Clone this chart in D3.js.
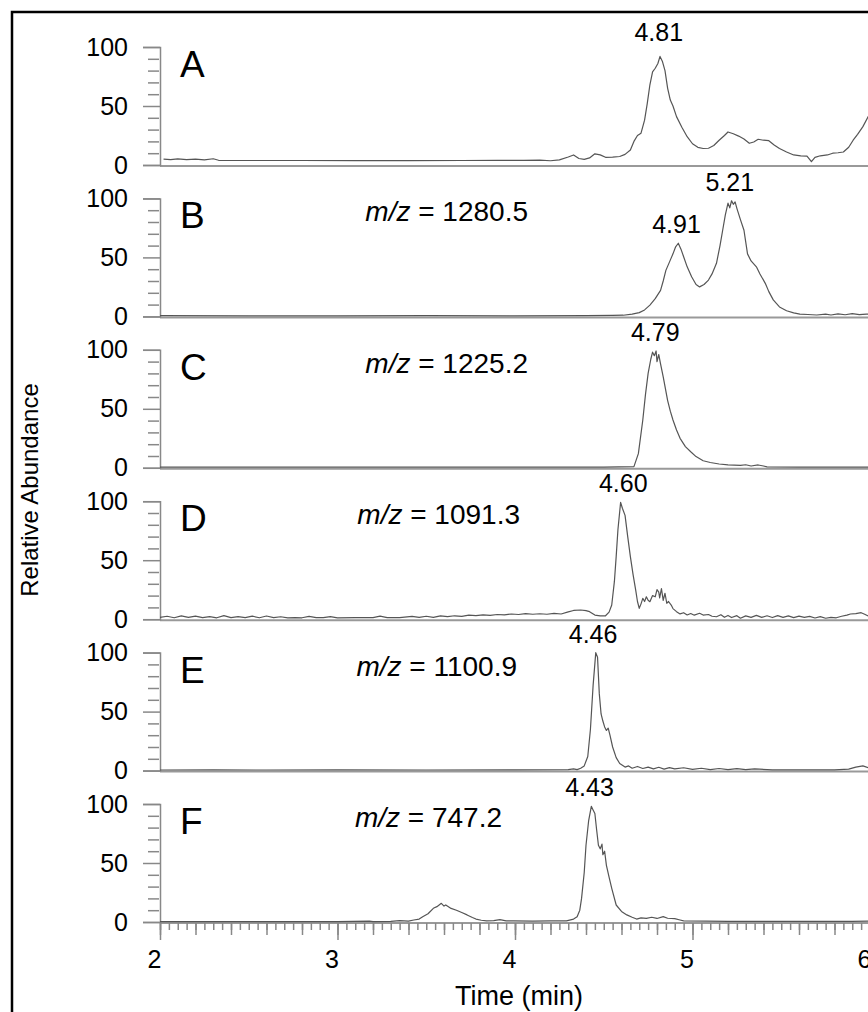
<!DOCTYPE html>
<html>
<head>
<meta charset="utf-8">
<script src="https://cdn.jsdelivr.net/npm/d3@7"></script>
<style>
  body { margin: 0; background: #fff; }
  svg { display: block; font-family: Arial, "Liberation Sans", sans-serif; }
</style>
</head>
<body>
<div id="chart"></div>
<script>
// chromatogram traces, [time (min), relative abundance %]
var traceA = [[2.02,5],[2.06,4.6],[2.1,5.2],[2.15,4.5],[2.2,5],[2.25,4.4],[2.3,5.3],[2.33,4],[2.5,3.8],[2.8,3.8],[3.1,3.7],[3.4,3.7],[3.7,3.8],[3.9,3.9],[4.05,4],[4.14,4.2],[4.2,3.6],[4.25,4.4],[4.3,6.8],[4.33,8.5],[4.36,5.5],[4.39,4.8],[4.42,6],[4.45,9.5],[4.48,8.6],[4.51,6.5],[4.55,6.6],[4.59,7.2],[4.62,9],[4.65,12.7],[4.67,20],[4.69,25],[4.71,27],[4.73,38],[4.745,52],[4.76,68],[4.775,79],[4.79,82],[4.805,86],[4.817,92],[4.83,88],[4.845,80],[4.86,65],[4.875,55],[4.89,50],[4.91,41],[4.94,32],[4.97,24],[5.0,18],[5.03,15],[5.06,14],[5.09,14.2],[5.12,16.5],[5.15,21],[5.18,25],[5.2,28],[5.23,26.5],[5.26,24.5],[5.29,22],[5.32,18.4],[5.345,19.5],[5.37,21.8],[5.4,21],[5.43,20.6],[5.46,17],[5.49,14],[5.53,11],[5.57,8.5],[5.61,7.8],[5.645,7.6],[5.67,2.8],[5.69,6.5],[5.72,7.8],[5.76,8.5],[5.79,10],[5.82,10.4],[5.85,11],[5.88,15],[5.905,21],[5.93,26],[5.96,32.5],[5.99,41],[6.02,48]];
var traceB = [[2,0.6],[2.5,0.5],[3,0.5],[3.5,0.6],[4,0.5],[4.4,0.6],[4.55,0.8],[4.61,1],[4.66,2],[4.7,3.2],[4.73,5.5],[4.76,9.6],[4.79,15],[4.82,22],[4.835,30],[4.85,39],[4.87,46],[4.89,53],[4.905,59],[4.92,62],[4.935,57],[4.95,50.6],[4.97,42],[4.995,33.6],[5.02,27],[5.04,25],[5.065,27],[5.09,30.8],[5.11,36],[5.135,45],[5.155,60],[5.17,73],[5.185,86],[5.2,96],[5.21,92],[5.22,98],[5.23,95],[5.24,97],[5.25,91.6],[5.27,82],[5.29,73],[5.3,63],[5.31,53],[5.33,47],[5.36,42],[5.38,36],[5.41,28],[5.43,21],[5.455,14],[5.49,8],[5.53,4.8],[5.57,3],[5.605,2],[5.65,1.6],[5.7,1.2],[5.75,2],[5.78,1.2],[5.82,2.2],[5.86,1.4],[5.9,2.3],[5.94,1.5],[5.98,2],[6.02,1.5]];
var traceC = [[2,0.5],[3,0.5],[4,0.5],[4.5,0.6],[4.67,1],[4.695,12],[4.72,40.5],[4.735,62],[4.75,80],[4.765,92],[4.775,98],[4.785,95],[4.795,99],[4.8,90],[4.81,96],[4.82,88],[4.835,77],[4.86,57],[4.875,48],[4.89,40.5],[4.91,32],[4.93,25],[4.96,18],[4.99,13.6],[5.02,9.5],[5.06,6],[5.1,4.5],[5.15,3.2],[5.2,2.4],[5.27,2],[5.3,2.6],[5.33,1.5],[5.37,2.4],[5.4,1.5],[5.42,0.8],[5.6,0.5],[6.02,0.5]];
var traceD = [[2,1.5],[2.04,2.5],[2.08,1.2],[2.12,2.8],[2.16,1.5],[2.2,2.6],[2.24,1.3],[2.28,2.2],[2.32,1.2],[2.36,3],[2.4,1.4],[2.44,2.2],[2.48,1.3],[2.52,2.6],[2.56,1.2],[2.6,2.7],[2.64,1.3],[2.68,2.1],[2.72,1.2],[2.76,1.4],[2.8,1.2],[2.84,2.4],[2.88,1.3],[2.92,1.3],[2.96,2.2],[3,1.2],[3.1,1.3],[3.2,1.3],[3.24,2.6],[3.28,1.4],[3.35,1.3],[3.42,2.4],[3.46,1.5],[3.5,2.5],[3.54,1.6],[3.58,2.8],[3.62,2.2],[3.66,2.9],[3.7,2.4],[3.74,3.4],[3.78,3],[3.82,3.6],[3.86,3.2],[3.9,4],[3.94,3.6],[3.98,4.4],[4.02,4],[4.06,4.8],[4.1,4.2],[4.14,4.6],[4.18,4.2],[4.22,5],[4.26,4.4],[4.3,6.2],[4.33,7.4],[4.37,7.8],[4.4,7.2],[4.42,6.4],[4.45,3.5],[4.48,2.8],[4.51,2.9],[4.53,6],[4.545,12],[4.56,32],[4.57,53],[4.58,76],[4.595,99],[4.605,94],[4.62,88],[4.635,70],[4.65,53],[4.665,38],[4.68,24.7],[4.69,15],[4.7,9.2],[4.71,13],[4.72,17.7],[4.73,15],[4.74,19],[4.75,16],[4.76,14.8],[4.775,20],[4.79,19],[4.8,25],[4.81,23],[4.815,18],[4.825,26],[4.835,16],[4.845,22],[4.855,13.5],[4.865,15],[4.88,12],[4.89,9],[4.91,6.4],[4.93,4.5],[4.95,5.5],[4.97,3.6],[4.99,4.8],[5.01,3.4],[5.04,5],[5.06,3.5],[5.09,4],[5.11,2.5],[5.135,2.1],[5.16,3.8],[5.18,1.6],[5.2,3.2],[5.22,1.4],[5.25,3],[5.27,0.8],[5.3,2.8],[5.33,1.6],[5.36,3.2],[5.39,1.5],[5.42,2.9],[5.45,1.4],[5.48,3],[5.51,1.6],[5.54,2.8],[5.57,1.3],[5.6,2.6],[5.63,1.5],[5.66,2.4],[5.69,1],[5.72,2.2],[5.75,0.8],[5.78,1.6],[5.81,1.2],[5.84,2.5],[5.87,3.4],[5.89,4.4],[5.92,4.8],[5.95,5.5],[5.97,4.2],[5.99,2.7],[6.02,2]];
var traceE = [[2,0.5],[2.3,0.6],[2.6,0.5],[3,0.6],[3.5,0.5],[4,0.6],[4.3,0.8],[4.33,1.5],[4.35,0.8],[4.37,2],[4.39,4],[4.41,12],[4.425,35],[4.44,72],[4.455,100],[4.465,96],[4.475,65],[4.485,48],[4.495,42],[4.505,37],[4.515,34],[4.525,36],[4.535,30],[4.55,20],[4.57,11],[4.59,6],[4.62,3],[4.64,4],[4.66,2],[4.69,3.5],[4.72,1.8],[4.75,3],[4.78,1.5],[4.81,2.8],[4.84,1.2],[4.87,2.5],[4.9,1.4],[4.95,2.4],[5,1],[5.05,2],[5.1,0.8],[5.15,1.8],[5.2,0.8],[5.25,1.6],[5.3,0.8],[5.35,1.4],[5.45,0.6],[5.8,0.6],[5.88,1.2],[5.92,3],[5.96,4],[5.99,2.5],[6.02,3]];
var traceF = [[2,0.3],[2.5,0.3],[3,0.3],[3.18,0.8],[3.2,0.3],[3.3,0.5],[3.35,1.2],[3.4,0.8],[3.43,1.7],[3.46,2.5],[3.48,4.5],[3.51,7],[3.54,11.6],[3.56,13],[3.585,15.8],[3.6,13.5],[3.61,14.5],[3.64,11.5],[3.67,10],[3.7,8],[3.73,6],[3.76,3.8],[3.78,2.5],[3.81,1.5],[3.84,1],[3.88,1.2],[3.915,2],[3.95,1],[3.99,1],[4.1,0.8],[4.2,1],[4.29,1],[4.33,2.5],[4.35,4.5],[4.365,10],[4.375,20],[4.39,42],[4.4,65],[4.415,86],[4.43,98],[4.44,95],[4.45,92],[4.46,78],[4.47,65],[4.48,62],[4.49,66],[4.495,57],[4.505,60],[4.515,48],[4.53,38],[4.545,28.5],[4.57,14.4],[4.6,9],[4.63,6],[4.66,4],[4.685,2.5],[4.71,3.5],[4.74,3],[4.77,4],[4.8,3],[4.835,4.5],[4.86,3.2],[4.9,2.8],[4.93,1.7],[4.95,1],[5.2,0.5],[5.5,0.5],[5.9,0.6],[6.02,0.8]];

var panelLetters = ["A", "B", "C", "D", "E", "F"];
var mzLabels = ["", "m/z = 1280.5", "m/z = 1225.2", "m/z = 1091.3", "m/z = 1100.9", "m/z = 747.2"];
// where each m/z label ends, in pixels
var mzRight = [0, 528, 528, 520, 517, 502];
// peak labels per panel: [text, x centre in minutes, level (%) the label sits above]
var peakLabels = [
    [["4.81", 4.81, 97]],
    [["4.91", 4.91, 62], ["5.21", 5.21, 98]],
    [["4.79", 4.79, 99]],
    [["4.60", 4.61, 99]],
    [["4.46", 4.44, 100]],
    [["4.43", 4.42, 98]]
];
var yMajor = [0, 50, 100];
var yMinor = [10, 20, 30, 40, 60, 70, 80, 90];
var xMajor = [2, 3, 4, 5, 6];

var traces = [traceA, traceB, traceC, traceD, traceE, traceF];

var width = 868, height = 1012;
var margin = {left: 160, top: 47};
var panelH = 118, panelGap = 151.4;

var svg = d3.select("#chart").append("svg")
    .attr("width", width)
    .attr("height", height);

// outer frame
svg.append("rect")
    .attr("x", 12).attr("y", 12)
    .attr("width", 900).attr("height", 1100)
    .attr("fill", "none")
    .attr("stroke", "#000")
    .attr("stroke-width", 2.5);

var x = d3.scaleLinear().domain([2, 6]).range([margin.left, 870]);

var line = d3.line()
    .x(function(d) { return x(d[0]); });

traces.forEach(function(data, i) {
    var top = margin.top + i * panelGap;
    var y = d3.scaleLinear().domain([0, 100]).range([top + panelH, top]);
    var g = svg.append("g").attr("class", "panel");

    // baseline axis
    g.append("line")
        .attr("x1", margin.left).attr("x2", width)
        .attr("y1", y(0) + 1).attr("y2", y(0) + 1)
        .attr("stroke", "#999")
        .attr("stroke-width", 2);

    var yAxis = g.append("g")
        .attr("transform", "translate(" + margin.left + ",0)")
        .call(d3.axisLeft(y).tickValues(yMajor).tickSize(17).tickPadding(15));
    yAxis.selectAll(".tick text")
        .attr("fill", "#000")
        .style("font-size", "25px");
    g.append("g")
        .attr("transform", "translate(" + (margin.left - 1) + ",0)")
        .call(d3.axisLeft(y).tickValues(yMinor).tickSize(11).tickFormat(""))
        .select(".domain").remove();
    g.selectAll(".domain").attr("stroke", "#888").attr("stroke-width", 1.5);
    g.selectAll(".tick line").attr("stroke", "#888").attr("stroke-width", 1.5);

    g.append("path")
        .datum(data)
        .attr("fill", "none")
        .attr("stroke", "#555")
        .attr("stroke-width", 1.2)
        .attr("stroke-linejoin", "round")
        .attr("d", line.y(function(d) { return y(d[1]); }));

    g.append("text")
        .attr("x", 180)
        .attr("y", y(100) + 30)
        .style("font-size", "37px")
        .text(panelLetters[i]);

    if (mzLabels[i]) {
        var parts = mzLabels[i].split(" = ");
        var t = g.append("text")
            .attr("x", mzRight[i])
            .attr("y", y(100) + 23)
            .attr("text-anchor", "end")
            .style("font-size", "28px");
        t.append("tspan").style("font-style", "italic").text(parts[0]);
        t.append("tspan").text(" = " + parts[1]);
    }

    peakLabels[i].forEach(function(p) {
        g.append("text")
            .attr("x", x(p[1]))
            .attr("y", y(p[2]) - 10)
            .attr("text-anchor", "middle")
            .style("font-size", "25px")
            .text(p[0]);
    });

    if (i === traces.length - 1) {
        var xg = g.append("g")
            .attr("transform", "translate(0," + (y(0) + 1) + ")");
        xg.call(d3.axisBottom(x).tickValues(d3.range(2, 6.03, 0.05)).tickSize(7).tickFormat(""));
        xg.append("g").call(d3.axisBottom(x).tickValues(d3.range(2, 6.03, 0.2)).tickSize(12).tickFormat(""));
        xg.append("g").call(d3.axisBottom(x).tickValues(xMajor).tickSize(17).tickPadding(10).tickFormat(d3.format("d")));
        xg.selectAll(".domain").remove();
        xg.selectAll(".tick line").attr("stroke", "#888").attr("stroke-width", 1.5);
        xg.selectAll(".tick text")
            .attr("fill", "#000")
            .attr("dx", -6)
            .style("font-size", "25px");
    }
});

svg.append("text")
    .attr("x", 519)
    .attr("y", 1005)
    .attr("text-anchor", "middle")
    .style("font-size", "27px")
    .text("Time (min)");

svg.append("text")
    .attr("transform", "translate(38,490) rotate(-90)")
    .attr("text-anchor", "middle")
    .style("font-size", "24px")
    .text("Relative Abundance");
</script>
</body>
</html>
